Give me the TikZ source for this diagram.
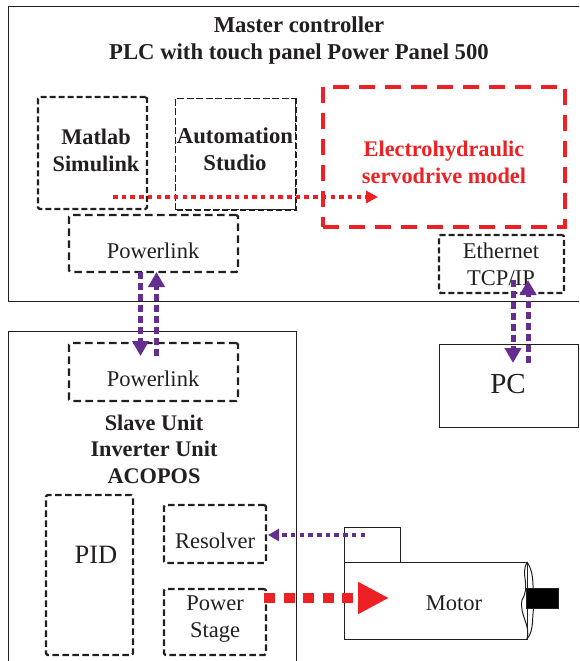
\documentclass[tikz,border=0pt]{standalone}
\usepackage{fontspec}
\setmainfont{Liberation Serif}
\usetikzlibrary{arrows.meta,positioning}
\definecolor{inkblack}{HTML}{231F20}
\definecolor{linkviolet}{HTML}{662D91}
\definecolor{modelred}{HTML}{ED2024}

\begin{document}
\begin{tikzpicture}[x=1pt,y=-1pt]

	\tikzset{plainbox/.style={draw=inkblack,line width=1pt,inner sep=0pt}}
	\tikzset{dashbox/.style={draw=inkblack,line width=2.2pt,dash pattern=on 7.5pt off 4.5pt,inner sep=0pt,rounded corners=1.5pt}}
	\tikzset{modelbox/.style={draw=modelred,line width=4.2pt,dash pattern=on 16pt off 10pt,inner sep=0pt}}
	\tikzset{normaltext/.style={align=center,text=inkblack,font=\fontsize{22.5}{27}\selectfont}}
	\tikzset{boldtext/.style={align=center,text=inkblack,font=\fontsize{22.7}{27}\selectfont\bfseries}}
	\tikzset{commlink/.style={draw=linkviolet,line width=5pt,dash pattern=on 7pt off 4pt,-{Triangle[length=15pt,width=16pt,fill=linkviolet]}}}
	\tikzset{signallink/.style={line width=3.6pt,dash pattern=on 4.5pt off 4.2pt}}

	\newcommand\makeBox[6] % {name}{x1}{y1}{x2}{y2}{style}
	{
		\node[#6,minimum width=#4pt-#2pt,minimum height=#5pt-#3pt] at ({(#2+#4)/2},{(#3+#5)/2}) (#1) {};
	}

	\useasboundingbox (0,0) rectangle (579,661);

	\draw[plainbox] (579,301) -- (8,301) -- (8,7) -- (579,7);
	\draw[plainbox] (8,661) -- (8,331) -- (296,331) -- (296,661);

	\makeBox{matlab}{38}{97}{147}{209}{dashbox,dash pattern=on 6pt off 3pt}
	\makeBox{automation}{175}{98}{295}{209}{dashbox,line width=1pt,dash pattern=on 7pt off 2.5pt,rounded corners=0pt}
	\makeBox{plinkup}{69}{215}{238}{272}{dashbox}
	\makeBox{model}{323}{87}{565}{227}{modelbox}
	\makeBox{ethernet}{439}{235}{564}{293}{dashbox,dash pattern=on 6pt off 3pt}
	\makeBox{pc}{439}{344}{578}{427}{plainbox}
	\makeBox{plinkdown}{69}{343}{238}{401}{dashbox}
	\makeBox{pid}{46}{495}{133}{655}{dashbox,dash pattern=on 6.5pt off 3.5pt}
	\makeBox{resolver}{164}{505}{266}{563}{dashbox,dash pattern=on 6.5pt off 3.5pt}
	\makeBox{power}{164}{589}{266}{655}{dashbox,dash pattern=on 6.5pt off 3.5pt}
	\makeBox{sensor}{344}{527}{400}{562}{plainbox}
	\makeBox{motor}{344}{562}{527}{639}{plainbox}

	\draw[draw=inkblack,line width=2pt,dash pattern=on 6pt off 3pt] (automation.north east) -- (automation.south east) -- (automation.south west);

	\node[boldtext] at (299,41) (title) {Master controller\\PLC with touch panel Power Panel 500};
	\node[boldtext,font=\fontsize{22.3}{27}\selectfont\bfseries] at (96,150) (matlabtext) {Matlab\\Simulink};
	\node[boldtext] at (235,149) (automationtext) {Automation\\Studio};
	\node[boldtext,font=\fontsize{22.3}{27}\selectfont\bfseries,text=modelred] at (444,162) (modeltext) {Electrohydraulic\\servodrive model};
	\node[boldtext,font=\fontsize{22.3}{26.5}\selectfont\bfseries] at (154,449) (slavetext) {Slave Unit\\Inverter Unit\\ACOPOS};

	\node[normaltext] at (153,251) (plinkuptext) {Powerlink};
	\node[normaltext] at (153,379) (plinkdowntext) {Powerlink};
	\node[normaltext] at (501,264) (ethernettext) {Ethernet\\TCP/IP};
	\node[normaltext,font=\fontsize{29}{34}\selectfont] at (508,384) (pctext) {PC};
	\node[normaltext,font=\fontsize{26.5}{30}\selectfont] at (96,555) (pidtext) {PID};
	\node[normaltext] at (215,541) (resolvertext) {Resolver};
	\node[normaltext] at (215,619) (powertext) {Power\\Stage};
	\node[normaltext] at (454,603) (motortext) {Motor};

	% motor end cap
	\draw[plainbox] (527,562) .. controls (520,575) and (531,585) .. (522,600) .. controls (519,615) and (531,625) .. (527,639);
	\draw[plainbox] (527,562) .. controls (536,575) and (531,590) .. (535,600) .. controls (531,615) and (535,630) .. (527,639);
	\makeBox{shaft}{526}{588}{558}{608}{plainbox,fill=black}

	\coordinate (dotstart) at (113,197);
	\coordinate (dotend) at (378,197);
	\coordinate (encoder) at (365,535);
	\coordinate (resolverin) at (268,535);
	\coordinate (drivestart) at (264,598);
	\coordinate (driveend) at (389,598);
	\coordinate (upa) at (140.5,272);
	\coordinate (upb) at (140.5,356);
	\coordinate (upc) at (156.5,356);
	\coordinate (upd) at (156.5,272);
	\coordinate (etha) at (513,280);
	\coordinate (ethb) at (513,363);
	\coordinate (ethc) at (528,363);
	\coordinate (ethd) at (528,280);

	\draw[commlink] (upa) -- (upb);
	\draw[commlink] (upc) -- (upd);
	\draw[commlink] (etha) -- (ethb);
	\draw[commlink] (ethc) -- (ethd);

	\draw[signallink,draw=modelred,-{Triangle[length=12pt,width=12pt,fill=modelred]}] (dotstart) -- (dotend);
	\draw[signallink,draw=linkviolet,-{Triangle[length=11pt,width=12pt,fill=linkviolet]}] (encoder) -- (resolverin);
	\draw[draw=modelred,line width=10pt,dash pattern=on 11pt off 8.5pt,-{Triangle[length=31pt,width=30pt,fill=modelred]}] (drivestart) -- (driveend);

\end{tikzpicture}
\end{document}
